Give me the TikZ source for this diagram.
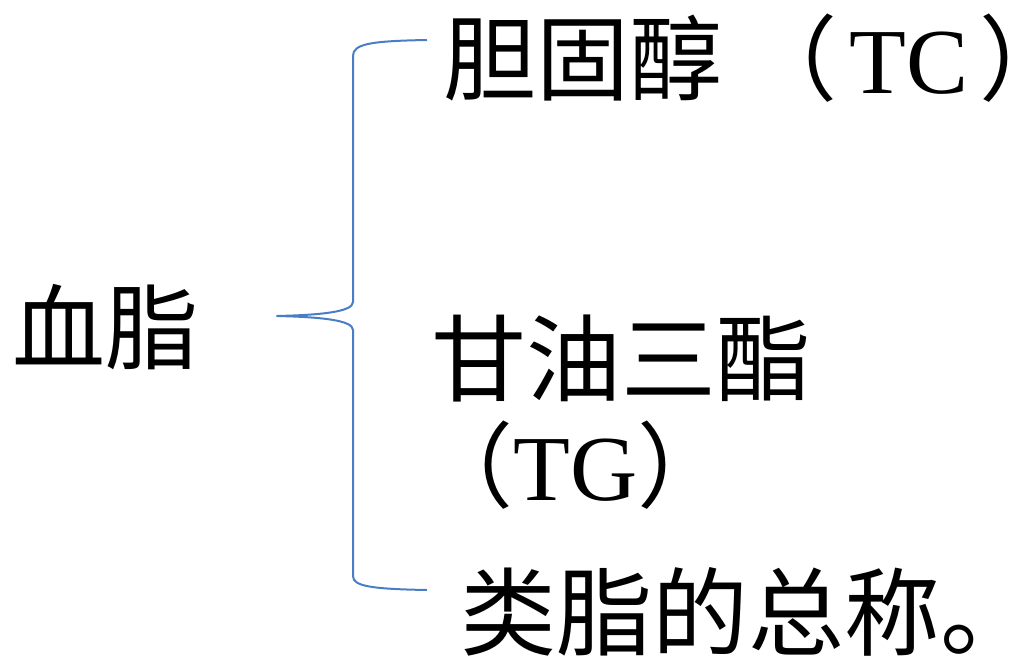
\documentclass[tikz,border=0pt]{standalone}
\usepackage{fontspec}
\newfontfamily\cjk{Noto Sans CJK SC}
\newfontfamily\lat{Liberation Serif}
\definecolor{braceblue}{HTML}{4A7EC4}
\begin{document}
\begin{tikzpicture}[x=1pt,y=-1pt,
  txt/.style={inner sep=0pt, anchor=base west, font=\cjk\fontsize{93}{93}\selectfont},
  brace/.style={draw=braceblue, line width=2pt, line join=round}]
\useasboundingbox (0,0) rectangle (1026,659);
\node[txt] (xz) at (12,362) {血脂};
\node[txt] (tc) at (443,93) {胆固醇\hspace{22pt}（\hspace{12pt}{\lat TC}\hspace{11pt}）};
\node[txt, font=\cjk\fontsize{95}{95}\selectfont] (tg1) at (431,394) {甘油三酯};
\node[txt] (tg2) at (420,500) {（{\lat TG}）};
\node[txt, font=\cjk\fontsize{96}{96}\selectfont] (lz) at (460,648) {类脂的总称。};
\coordinate (tip) at (277,316);
\coordinate (top) at (427,40);
\coordinate (bot) at (427,590);
\draw[brace] (top) .. controls (370,41) and (353,44) .. (353,56) -- (353,302)
  .. controls (353,312) and (320,315) .. (tip)
  .. controls (320,317) and (353,320) .. (353,330) -- (353,576)
  .. controls (353,586) and (370,589) .. (bot);
\end{tikzpicture}
\end{document}
